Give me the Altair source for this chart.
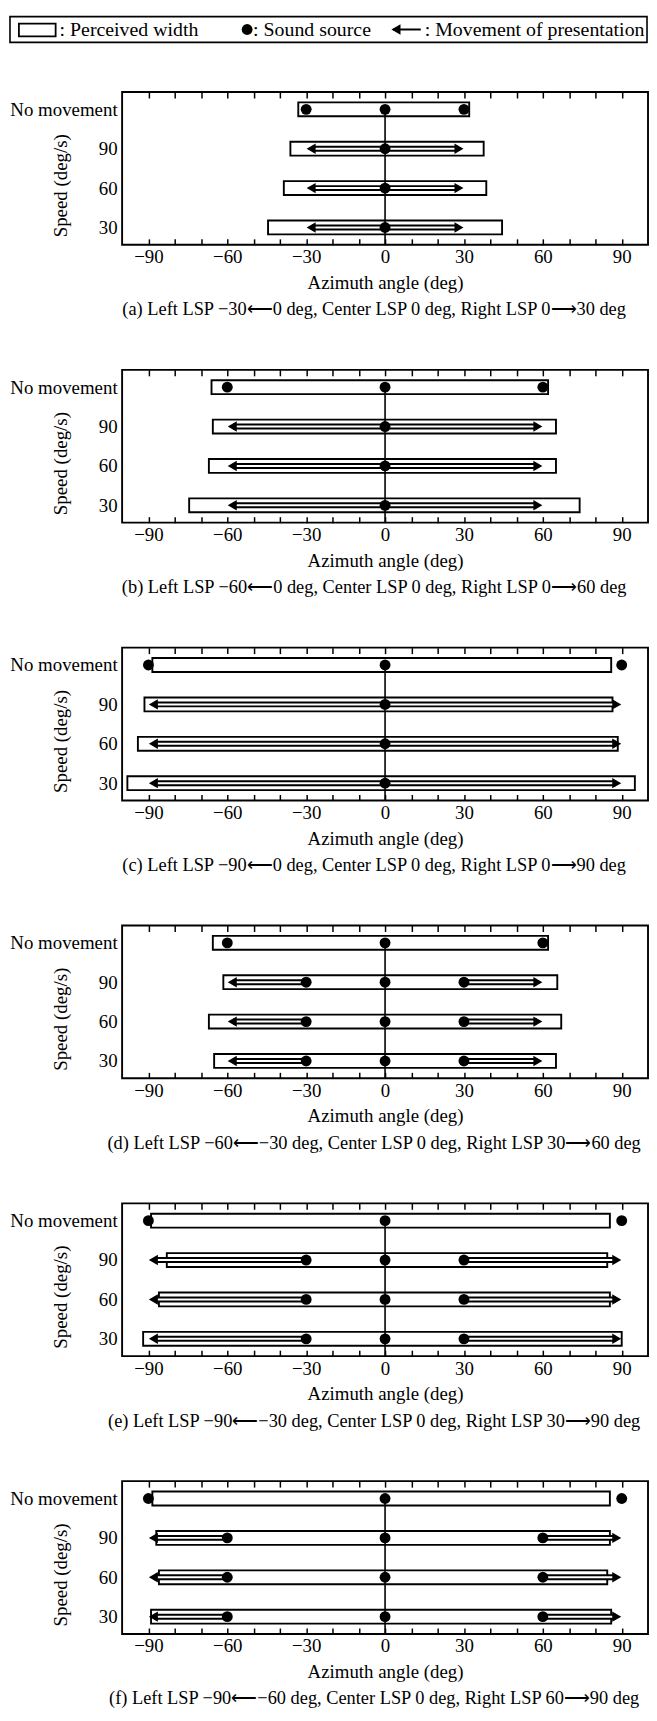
import altair as alt
import pandas as pd

# ---------------- data ----------------
ROWS = ["No movement", "90", "60", "30"]
X_TICK_VALUES = [-90, -80, -70, -60, -50, -40, -30, -20, -10, 0,
                 10, 20, 30, 40, 50, 60, 70, 80, 90]
CENTER_LSP = 0

LEGEND_LABELS = [": Perceived width", ": Sound source", ": Movement of presentation"]

CAPTIONS = [
    "(a) Left LSP \u221230\u27f50 deg, Center LSP 0 deg, Right LSP 0\u27f630 deg",
    "(b) Left LSP \u221260\u27f50 deg, Center LSP 0 deg, Right LSP 0\u27f660 deg",
    "(c) Left LSP \u221290\u27f50 deg, Center LSP 0 deg, Right LSP 0\u27f690 deg",
    "(d) Left LSP \u221260\u27f5\u221230 deg, Center LSP 0 deg, Right LSP 30\u27f660 deg",
    "(e) Left LSP \u221290\u27f5\u221230 deg, Center LSP 0 deg, Right LSP 30\u27f690 deg",
    "(f) Left LSP \u221290\u27f5\u221260 deg, Center LSP 0 deg, Right LSP 60\u27f690 deg",
]

# perceived width (deg), rows in ROWS order
A_LEFT = [-33, -36, -38.5, -44.5]
A_RIGHT = [32, 37.5, 38.5, 44.5]
B_LEFT = [-66, -65.5, -67, -74.5]
B_RIGHT = [62, 65, 65, 74]
C_LEFT = [-88.5, -91.5, -94, -98]
C_RIGHT = [86, 86.5, 88.5, 95]
D_LEFT = [-65.5, -61.5, -67, -65]
D_RIGHT = [62, 65.5, 67, 65]
E_LEFT = [-89, -83, -86, -92]
E_RIGHT = [85.5, 84.5, 85.5, 90]
F_LEFT = [-88.5, -87, -86, -89]
F_RIGHT = [85.5, 85.5, 84.5, 86]

# sound sources in the "No movement" row
A_STILL = [-30, 0, 30]
B_STILL = [-60, 0, 60]
C_STILL = [-90, 0, 90]
D_STILL = [-60, 0, 60]
E_STILL = [-90, 0, 90]
F_STILL = [-90, 0, 90]

# sound sources where the moving presentation starts (rows 90, 60, 30)
A_START = [0]
B_START = [0]
C_START = [0]
D_START = [-30, 0, 30]
E_START = [-30, 0, 30]
F_START = [-60, 0, 60]

# movement of presentation: from -> to
A_FROM, A_TO = [0, 0], [-30, 30]
B_FROM, B_TO = [0, 0], [-60, 60]
C_FROM, C_TO = [0, 0], [-90, 90]
D_FROM, D_TO = [-30, 30], [-60, 60]
E_FROM, E_TO = [-30, 30], [-90, 90]
F_FROM, F_TO = [-60, 60], [-90, 90]

# ---------------- layout ----------------
W, H = 530, 154
LEFT_EXTENT = 113
FONT = "Liberation Serif"

xs = alt.Scale(domain=[-100, 100], nice=False, zero=False)
ys = alt.Scale(type="point", padding=0.44)

bottom_axis = alt.Axis(
    orient="bottom", values=X_TICK_VALUES,
    labelExpr="datum.value % 30 === 0 ? datum.label : ''",
    tickSize=6, tickWidth=1.5, tickColor="black", offset=-6,
    labelPadding=3, labelFontSize=19, labelColor="black", labelOverlap=False,
    labelFlush=False, domain=False, grid=False,
    title="Azimuth angle (deg)", titleFontSize=19, titleFontWeight="normal",
    titleColor="black", titlePadding=7,
)
top_axis = alt.Axis(
    orient="top", values=X_TICK_VALUES, labels=False, tickSize=6,
    tickWidth=1.5, tickColor="black", offset=-6, domain=False, grid=False,
    title=None,
)
y_axis = alt.Axis(
    title="Speed (deg/s)", ticks=False, domain=False, grid=False,
    labelPadding=5, labelFontSize=19, labelColor="black",
    titleFontSize=19, titleFontWeight="normal", titleColor="black",
    titleX=-62, titleY=94, titleAngle=270, titleAlign="center",
    titleBaseline="middle",
)


def Y(axis=None):
    if axis is None:
        return alt.Y("row:N", sort=ROWS, scale=ys)
    return alt.Y("row:N", sort=ROWS, scale=ys, axis=axis)


def panel(caption, left, right, still, start, frm, to):
    boxes = pd.DataFrame({"row": ROWS, "left": left, "right": right})
    src_rows = [{"row": ROWS[0], "az": a} for a in still]
    src_rows += [{"row": r, "az": a} for r in ROWS[1:] for a in start]
    src = pd.DataFrame(src_rows)
    arr = pd.DataFrame([{"row": r, "start": f, "end": t}
                        for r in ROWS[1:] for f, t in zip(frm, to)])
    arr_l = arr[arr["end"] < arr["start"]]
    arr_r = arr[arr["end"] > arr["start"]]
    center = pd.DataFrame({"row": [ROWS[0]], "az": [CENTER_LSP]})

    bars = alt.Chart(boxes).mark_bar(
        size=14, fill="white", stroke="black", strokeWidth=1.9
    ).encode(
        x=alt.X("left:Q", scale=xs, axis=bottom_axis),
        x2="right:Q",
        y=Y(y_axis),
    )
    top = alt.Chart(boxes).mark_bar(size=14, opacity=0).encode(
        x=alt.X("left:Q", scale=xs, axis=top_axis),
        x2="right:Q",
        y=Y(),
    )
    zero = alt.Chart(center).mark_rule(color="black", strokeWidth=1.6).encode(
        x=alt.X("az:Q", scale=xs, axis=None),
        y=Y(),
        y2=alt.value(H),
    )

    def arrow_layers(df, sign):
        shape = "triangle-left" if sign < 0 else "triangle-right"
        black = alt.Chart(df).mark_rule(
            color="black", strokeWidth=6, x2Offset=-sign * 6
        ).encode(x=alt.X("start:Q", scale=xs, axis=None), x2="end:Q", y=Y())
        white = alt.Chart(df).mark_rule(
            color="white", strokeWidth=2, x2Offset=-sign * 8
        ).encode(x=alt.X("start:Q", scale=xs, axis=None), x2="end:Q", y=Y())
        head = alt.Chart(df).mark_point(
            shape=shape, filled=True, color="black", opacity=1, size=110,
            xOffset=-sign * 5
        ).encode(x=alt.X("end:Q", scale=xs, axis=None), y=Y())
        return [black, white, head]

    sources = alt.Chart(src).mark_point(
        shape="circle", filled=True, color="black", opacity=1, size=120
    ).encode(x=alt.X("az:Q", scale=xs, axis=None), y=Y())

    layers = [bars, top, zero] + arrow_layers(arr_l, -1) + arrow_layers(arr_r, 1) + [sources]
    return alt.layer(*layers).resolve_axis(x="independent").properties(
        width=W, height=H,
        title=alt.TitleParams(
            caption, orient="bottom", anchor="middle", frame="group",
            dx=-11, offset=8, fontSize=18.5, fontWeight="normal",
            color="black", font=FONT,
        ),
    )


# ---------------- legend (drawn in the same origin as the panel frames) ----------------
one = pd.DataFrame({"k": [0]})
LH = 26
L0 = -LEFT_EXTENT
lb = alt.Chart(one)
leg_box = lb.mark_rect(fill="white", stroke="black", strokeWidth=1.6).encode(
    x=alt.value(L0), x2=alt.value(W - 1), y=alt.value(0), y2=alt.value(LH))
leg_rect = lb.mark_rect(fill="white", stroke="black", strokeWidth=1.8).encode(
    x=alt.value(L0 + 9), x2=alt.value(L0 + 46), y=alt.value(7), y2=alt.value(20))
leg_t1 = lb.mark_text(text=LEGEND_LABELS[0], align="left", baseline="middle",
                      fontSize=20, color="black").encode(x=alt.value(L0 + 50), y=alt.value(14))
leg_dot = lb.mark_point(shape="circle", filled=True, color="black", opacity=1,
                        size=120).encode(x=alt.value(L0 + 239), y=alt.value(13))
leg_t2 = lb.mark_text(text=LEGEND_LABELS[1], align="left", baseline="middle",
                      fontSize=20, color="black").encode(x=alt.value(L0 + 245), y=alt.value(14))
leg_line = lb.mark_rule(color="black", strokeWidth=2).encode(
    x=alt.value(L0 + 386), x2=alt.value(L0 + 414), y=alt.value(13))
leg_head = lb.mark_point(shape="triangle-left", filled=True, color="black",
                         opacity=1, size=110).encode(x=alt.value(L0 + 389), y=alt.value(13))
leg_t3 = lb.mark_text(text=LEGEND_LABELS[2], align="left", baseline="middle",
                      fontSize=20, color="black").encode(x=alt.value(L0 + 418), y=alt.value(14))
legend = alt.layer(leg_box, leg_rect, leg_t1, leg_dot, leg_t2, leg_line, leg_head,
                   leg_t3).properties(
    width=W, height=LH, view=alt.ViewBackground(stroke="transparent"))

panels = [
    panel(CAPTIONS[0], A_LEFT, A_RIGHT, A_STILL, A_START, A_FROM, A_TO),
    panel(CAPTIONS[1], B_LEFT, B_RIGHT, B_STILL, B_START, B_FROM, B_TO),
    panel(CAPTIONS[2], C_LEFT, C_RIGHT, C_STILL, C_START, C_FROM, C_TO),
    panel(CAPTIONS[3], D_LEFT, D_RIGHT, D_STILL, D_START, D_FROM, D_TO),
    panel(CAPTIONS[4], E_LEFT, E_RIGHT, E_STILL, E_START, E_FROM, E_TO),
    panel(CAPTIONS[5], F_LEFT, F_RIGHT, F_STILL, F_START, F_FROM, F_TO),
]

chart = alt.vconcat(
    legend,
    alt.vconcat(*panels, spacing=48),
    spacing=46,
).properties(padding=0).configure(font=FONT).configure_view(
    stroke="black", strokeWidth=1.9
)

chart.save("out.html", embed_options={"renderer": "svg", "actions": False})
